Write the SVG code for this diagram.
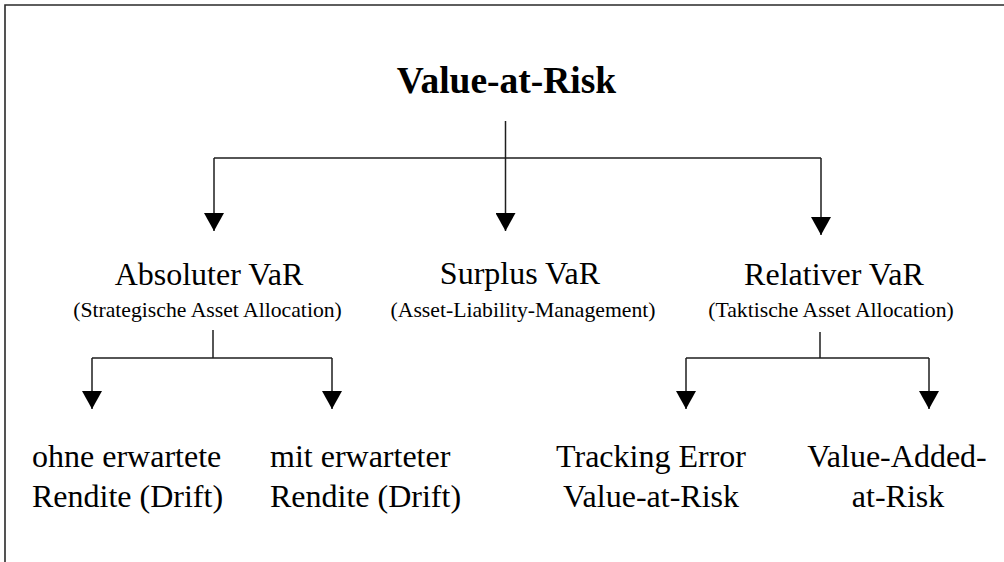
<svg xmlns="http://www.w3.org/2000/svg" width="1004" height="562" viewBox="0 0 1004 562">
  <style>
    .frame { stroke: #2a2a2a; stroke-width: 1.6; fill: none; }
    .wire { stroke: #1e1e1e; stroke-width: 1.5; fill: none; }
    text { font-family: "Liberation Serif", "Times New Roman", serif; fill: #000; }
    .title { font-size: 37.5px; font-weight: bold; text-anchor: middle; }
    .head { font-size: 32px; text-anchor: middle; }
    .sub { font-size: 21.7px; text-anchor: middle; }
    .leaf { font-size: 32px; }
    .leafc { font-size: 32px; text-anchor: middle; }
  </style>
  <defs>
    <!-- solid triangular head, drawn along +x and rotated with the line -->
    <marker id="arrow" viewBox="0 0 18 20" refX="18" refY="10" markerWidth="18" markerHeight="20" markerUnits="userSpaceOnUse" orient="auto">
      <path d="M0,0 L18,10 L0,20 Z" fill="#000"/>
    </marker>
  </defs>
  <rect width="1004" height="562" fill="#fff"/>

  <!-- outer frame: top and left edges only -->
  <path class="frame" d="M5,562 V5 H1004"/>

  <g id="connectors">
    <!-- root to first level -->
    <path class="wire" d="M505.5,121 V158"/>
    <path class="wire" d="M214,158 H821"/>
    <path class="wire" d="M214,158 V231" marker-end="url(#arrow)"/>
    <path class="wire" d="M505.5,158 V231" marker-end="url(#arrow)"/>
    <path class="wire" d="M821,158 V235" marker-end="url(#arrow)"/>
    <!-- absolute VaR branch -->
    <path class="wire" d="M213,330 V358"/>
    <path class="wire" d="M92,358 H332"/>
    <path class="wire" d="M92,358 V409" marker-end="url(#arrow)"/>
    <path class="wire" d="M332,358 V409" marker-end="url(#arrow)"/>
    <!-- relative VaR branch -->
    <path class="wire" d="M820,332 V358"/>
    <path class="wire" d="M686,358 H929"/>
    <path class="wire" d="M686,358 V409" marker-end="url(#arrow)"/>
    <path class="wire" d="M929,358 V409" marker-end="url(#arrow)"/>
  </g>

  <g id="root">
    <text class="title" x="506.5" y="93">Value-at-Risk</text>
  </g>

  <g id="absolute">
    <text class="head" x="209" y="285">Absoluter VaR</text>
    <text class="sub" x="207.5" y="317">(Strategische Asset Allocation)</text>
  </g>

  <g id="surplus">
    <text class="head" x="520" y="284">Surplus VaR</text>
    <text class="sub" x="523" y="317">(Asset-Liability-Management)</text>
  </g>

  <g id="relative">
    <text class="head" x="834" y="285">Relativer VaR</text>
    <text class="sub" x="831" y="317">(Taktische Asset Allocation)</text>
  </g>

  <g id="without-drift">
    <text class="leaf" x="32" y="467">ohne erwartete</text>
    <text class="leaf" x="32" y="507">Rendite (Drift)</text>
  </g>

  <g id="with-drift">
    <text class="leaf" x="270" y="467">mit erwarteter</text>
    <text class="leaf" x="270" y="507">Rendite (Drift)</text>
  </g>

  <g id="tracking-error">
    <text class="leafc" x="651" y="467">Tracking Error</text>
    <text class="leafc" x="651" y="507">Value-at-Risk</text>
  </g>

  <g id="value-added">
    <text class="leafc" x="897" y="467">Value-Added-</text>
    <text class="leafc" x="898" y="507">at-Risk</text>
  </g>
</svg>
